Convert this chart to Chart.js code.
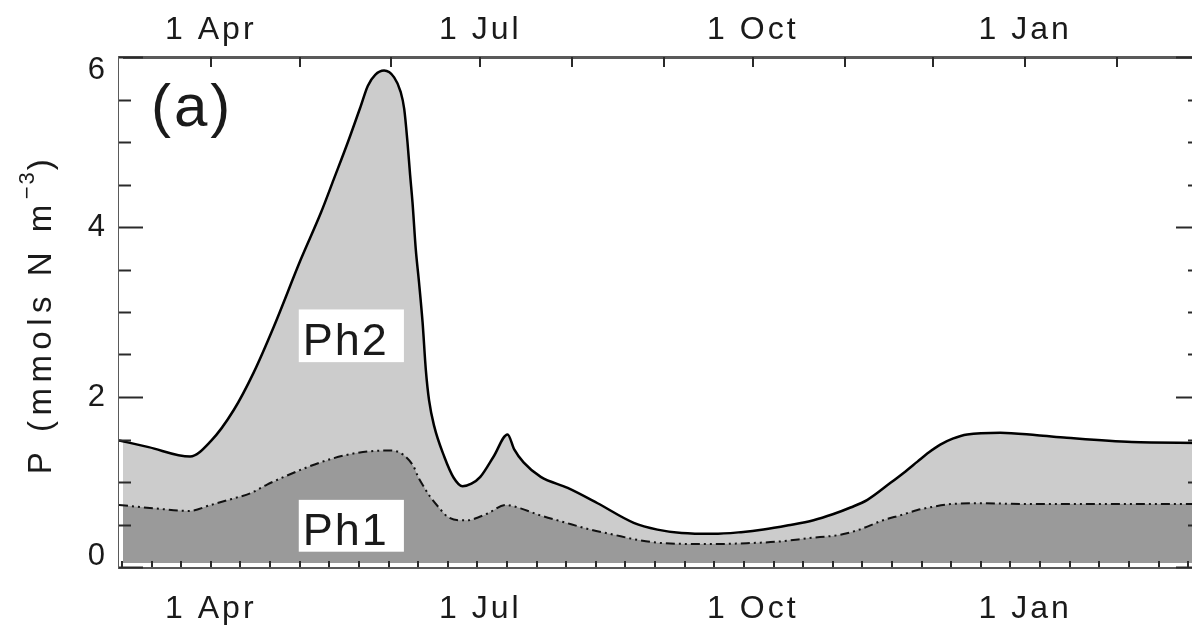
<!DOCTYPE html>
<html>
<head>
<meta charset="utf-8">
<script src="https://cdn.jsdelivr.net/npm/chart.js@4/dist/chart.umd.min.js"></script>
<style>
  html, body { margin: 0; padding: 0; background: #fff; overflow: hidden; }
  #wrap { width: 1212px; height: 629px; }
</style>
</head>
<body>
<div id="wrap"><canvas id="chart"></canvas></div>
<script>
// x values are days counted from 1 Mar
const totalDays = [0, 10, 24, 31, 38.8, 45.5, 52.3, 61.4, 68.2, 72.5, 77.3, 81.6, 84, 86.5, 89.5, 92.9, 95.1, 96.3, 97.4, 98.3, 99.1, 100.2, 101.3, 102.5, 103.6, 104.7, 106.4, 109.8, 113, 116, 119, 122, 126.5, 131.2, 133.5, 136.6, 142.4, 151.5, 161.6, 173.8, 181.8, 190, 200.7, 210, 217.6, 226, 234.5, 241, 247, 252.7, 260.5, 265, 269.6, 273.5, 277.3, 281.5, 286.4, 297.6, 310, 320, 342, 365];
const totalValues = [1.49, 1.41, 1.30, 1.48, 1.85, 2.29, 2.83, 3.62, 4.17, 4.56, 5.0, 5.42, 5.66, 5.79, 5.84, 5.76, 5.59, 5.39, 5.0, 4.61, 4.29, 3.74, 3.35, 2.88, 2.32, 1.96, 1.66, 1.30, 1.05, 0.95, 0.98, 1.06, 1.30, 1.56, 1.38, 1.23, 1.06, 0.93, 0.75, 0.52, 0.44, 0.40, 0.39, 0.41, 0.44, 0.49, 0.55, 0.62, 0.70, 0.79, 0.99, 1.11, 1.24, 1.35, 1.44, 1.51, 1.56, 1.58, 1.55, 1.52, 1.47, 1.46];

const ph1Days = [0, 12, 23.6, 31, 38, 44.5, 50, 55.7, 64, 72.5, 80, 89.4, 92, 96, 99.5, 101, 103, 105, 108, 111, 114.5, 118, 121, 124.5, 130.6, 135.6, 142, 150, 158, 167, 175, 184, 200.7, 212, 223, 233, 243.6, 250, 258, 264, 269.6, 275, 280.7, 290, 308.7, 335, 365];
const ph1Values = [0.73, 0.69, 0.66, 0.73, 0.80, 0.87, 0.97, 1.06, 1.18, 1.28, 1.34, 1.37, 1.37, 1.32, 1.18, 1.06, 0.94, 0.83, 0.70, 0.59, 0.55, 0.55, 0.58, 0.63, 0.73, 0.69, 0.61, 0.53, 0.45, 0.38, 0.32, 0.28, 0.27, 0.28, 0.30, 0.34, 0.38, 0.44, 0.55, 0.61, 0.67, 0.71, 0.74, 0.75, 0.74, 0.74, 0.74];

const dateLabelDays = [31, 122, 214, 306];
const dateLabels = ['1 Apr', '1 Jul', '1 Oct', '1 Jan'];
const monthStartDays = [31, 61, 92, 122, 153, 184, 214, 245, 275, 306, 337];
const tenDayTicks = [1, 11, 21, 31, 41, 51, 61, 71, 81, 91, 101, 111, 121, 131, 141, 151, 161, 171, 181, 191, 201, 211, 221, 231, 241, 251, 261, 271, 281, 291, 301, 311, 321, 331, 341, 351, 361];
const yTickValues = [0, 0.5, 1, 1.5, 2, 2.5, 3, 3.5, 4, 4.5, 5, 5.5, 6];
const yLabelValues = [0, 2, 4, 6];

const FONT = '"Liberation Sans", Arial, sans-serif';
const INK = '#1a1a1a';

const toPoints = (xs, ys) => xs.map((x, i) => ({ x: x, y: ys[i] }));

const frame = {
  id: 'frame',
  beforeDraw(chart) {
    chart.ctx.letterSpacing = '3px';
  },
  beforeDatasetsDraw(chart) {
    // thin white gap along the inside of the left and bottom axes
    const { ctx, chartArea: a } = chart;
    ctx.save();
    ctx.fillStyle = '#fff';
    ctx.fillRect(a.left, a.bottom - 4, a.right - a.left, 4);
    ctx.fillRect(a.left, a.top, 4, a.bottom - a.top);
    ctx.restore();
  },
  afterDatasetsDraw(chart) {
    const { ctx, scales } = chart;
    const boxes = [
      { text: 'Ph2', x0: 60.7, x1: 96.2, y0: 3.03, y1: 2.41 },
      { text: 'Ph1', x0: 60.7, x1: 96.2, y0: 0.79, y1: 0.18 }
    ];
    ctx.save();
    boxes.forEach(b => {
      const l = scales.x.getPixelForValue(b.x0), r = scales.x.getPixelForValue(b.x1);
      const t = scales.y.getPixelForValue(b.y0), btm = scales.y.getPixelForValue(b.y1);
      ctx.fillStyle = '#fff';
      ctx.fillRect(l, t, r - l, btm - t);
      ctx.fillStyle = INK;
      ctx.font = '45px ' + FONT;
      ctx.letterSpacing = '2px';
      ctx.textBaseline = 'alphabetic';
      ctx.textAlign = 'left';
      ctx.fillText(b.text, l + 4, btm - 7);
    });
    ctx.restore();
  },
  afterDraw(chart) {
    const { ctx, chartArea: a, scales } = chart;
    const line = (x1, y1, x2, y2) => { ctx.beginPath(); ctx.moveTo(x1, y1); ctx.lineTo(x2, y2); ctx.stroke(); };
    ctx.save();
    ctx.strokeStyle = '#2a2a2a';
    ctx.lineWidth = 2;
    tenDayTicks.forEach(d => { const px = Math.round(scales.x.getPixelForValue(d)); line(px, a.bottom, px, a.bottom - 6); });
    monthStartDays.forEach(d => { const px = Math.round(scales.x2.getPixelForValue(d)); line(px, a.top, px, a.top + 10); });
    yTickValues.forEach(v => {
      const py = Math.round(scales.y.getPixelForValue(v)) + 0.5;
      const len = yLabelValues.includes(v) ? 24 : 12;
      line(a.left, py, a.left + len, py);
      line(a.right, py, a.right - len, py);
    });

    // y tick labels, kept inside the axis range at both ends
    ctx.fillStyle = INK;
    ctx.font = '31px ' + FONT;
    ctx.letterSpacing = '0px';
    ctx.textAlign = 'right';
    ctx.textBaseline = 'middle';
    yLabelValues.forEach(v => {
      let py = scales.y.getPixelForValue(v);
      if (v === scales.y.max) py += 13;
      if (v === scales.y.min) py -= 11;
      ctx.fillText(String(v), a.left - 14, py);
    });

    // panel letter
    ctx.font = '60px ' + FONT;
    ctx.letterSpacing = '3px';
    ctx.textAlign = 'left';
    ctx.textBaseline = 'alphabetic';
    ctx.fillText('(a)', scales.x.getPixelForValue(10.8), scales.y.getPixelForValue(5.19));

    // rotated y-axis title with superscript
    const mainTxt = 'P (mmols N m', supTxt = '\u22123', endTxt = ')';
    ctx.letterSpacing = '5.5px';
    ctx.font = '33px ' + FONT;
    const w1 = ctx.measureText(mainTxt).width, w3 = ctx.measureText(endTxt).width;
    ctx.font = '22px ' + FONT;
    ctx.letterSpacing = '2px';
    const w2 = ctx.measureText(supTxt).width;
    const total = w1 + w2 + w3;
    ctx.translate(51, (a.top + a.bottom) / 2 + 2);
    ctx.rotate(-Math.PI / 2);
    let x = -total / 2;
    ctx.letterSpacing = '5.5px';
    ctx.font = '33px ' + FONT;
    ctx.fillText(mainTxt, x, 0);
    x += w1;
    ctx.letterSpacing = '2px';
    ctx.font = '22px ' + FONT;
    ctx.fillText(supTxt, x, -17);
    x += w2;
    ctx.letterSpacing = '5.5px';
    ctx.font = '33px ' + FONT;
    ctx.fillText(endTxt, x, 0);
    ctx.restore();
  }
};

const dateTick = v => {
  const i = dateLabelDays.indexOf(v);
  return i >= 0 ? dateLabels[i] : '';
};

new Chart(document.getElementById('chart'), {
  type: 'line',
  data: {
    datasets: [
      {
        label: 'Ph1',
        data: toPoints(ph1Days, ph1Values),
        borderColor: '#111',
        borderWidth: 2,
        borderDash: [9, 4, 2, 4, 2, 4],
        backgroundColor: '#9a9a9a',
        fill: 'origin',
        pointRadius: 0,
        cubicInterpolationMode: 'monotone'
      },
      {
        label: 'Ph2',
        data: toPoints(totalDays, totalValues),
        borderColor: '#000',
        borderWidth: 2.5,
        backgroundColor: '#cccccc',
        fill: 'origin',
        pointRadius: 0,
        cubicInterpolationMode: 'monotone'
      }
    ]
  },
  options: {
    responsive: true,
    maintainAspectRatio: false,
    animation: false,
    layout: { padding: 0 },
    plugins: {
      legend: { display: false },
      tooltip: { enabled: false },
      filler: { drawTime: 'beforeDatasetsDraw' }
    },
    scales: {
      x: {
        type: 'linear', position: 'bottom', min: 0, max: 365, z: 1,
        afterBuildTicks: s => { s.ticks = dateLabelDays.map(v => ({ value: v })); },
        afterFit: s => { s.height = 62; },
        grid: { display: false, drawTicks: false },
        border: { display: true, color: '#5a5a5a', width: 3 },
        ticks: { autoSkip: false, maxRotation: 0, padding: 23, color: INK, font: { family: FONT, size: 32 }, callback: dateTick }
      },
      x2: {
        type: 'linear', position: 'top', min: 0, max: 365, z: 1,
        afterBuildTicks: s => { s.ticks = dateLabelDays.map(v => ({ value: v })); },
        afterFit: s => { s.height = 57; },
        grid: { display: false, drawTicks: false },
        border: { display: true, color: '#5a5a5a', width: 3 },
        ticks: { autoSkip: false, maxRotation: 0, padding: 8, color: INK, font: { family: FONT, size: 32 }, callback: dateTick }
      },
      y: {
        type: 'linear', position: 'left', min: 0, max: 6, z: 1,
        afterBuildTicks: s => { s.ticks = yTickValues.map(v => ({ value: v })); },
        afterFit: s => { s.width = 119; },
        grid: { display: false, drawTicks: false },
        border: { display: true, color: '#5a5a5a', width: 3 },
        ticks: { display: false }
      },
      y2: {
        type: 'linear', position: 'right', min: 0, max: 6, z: 1,
        afterBuildTicks: s => { s.ticks = yTickValues.map(v => ({ value: v })); },
        afterFit: s => { s.width = 12; },
        grid: { display: false, drawTicks: false },
        border: { display: true, color: '#5a5a5a', width: 3 },
        ticks: { display: false }
      }
    }
  },
  plugins: [frame]
});
</script>
</body>
</html>
